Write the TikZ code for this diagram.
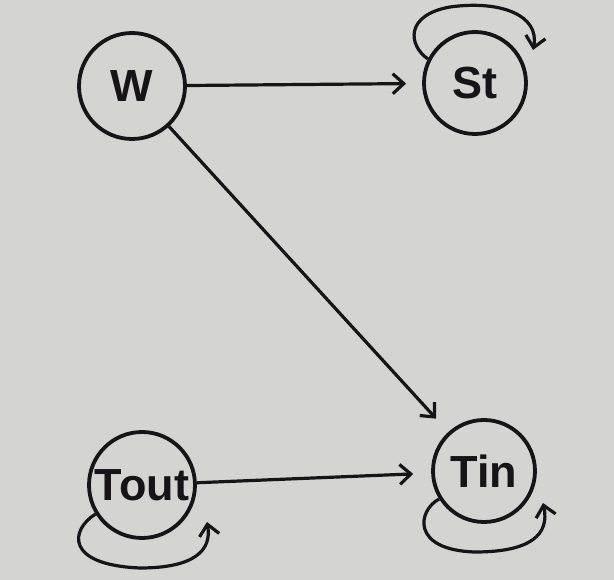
\documentclass[tikz,border=0pt]{standalone}
\usepackage{fontspec}
\setmainfont{Liberation Sans}
\usetikzlibrary{arrows.meta}
\definecolor{paper}{RGB}{212,212,209}
\definecolor{ink}{RGB}{22,20,24}
\begin{document}
\begin{tikzpicture}[x=1pt,y=-1pt,
  state/.style={circle,draw=ink,line width=3.8pt,inner sep=0pt,text=ink,
    font=\fontsize{45}{50}\selectfont\bfseries},
  arr/.style={draw=ink,line width=3.2pt,-{Straight Barb[length=11pt,width=20pt,line width=3.2pt]}}]
\fill[paper] (0,0) rectangle (614,580);
\useasboundingbox (0,0) rectangle (614,580);
\node[state,minimum size=106pt] (w) at (132,86) {W};
\node[state,minimum size=102pt] (st) at (475,83) {St};
\node[state,minimum size=106pt] (tout) at (142,485) {Tout};
\node[state,minimum size=102pt] (tin) at (484,471) {Tin};
\draw[arr,shorten >=16pt] (w) -- (st);
\draw[arr,shorten >=18pt] (w) -- (tin);
\draw[arr,shorten >=18pt] (tout) -- (tin);
\coordinate (stend) at (533,50);
\coordinate (toutend) at (207,522);
\coordinate (tinend) at (543,503);
\draw[arr] (st.153) .. controls (408,45) and (405,15) .. (450,7) .. controls (500,0) and (540,15) .. (stend);
\draw[arr] (tout.212) .. controls (70,530) and (65,565) .. (140,568) .. controls (195,568) and (212,550) .. (toutend);
\draw[arr] (tin.212) .. controls (418,510) and (410,550) .. (475,552) .. controls (530,552) and (550,535) .. (tinend);
\end{tikzpicture}
\end{document}
